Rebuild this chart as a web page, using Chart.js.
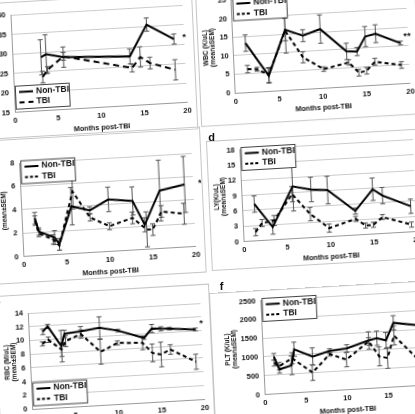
<!DOCTYPE html>
<html><head><meta charset="utf-8">
<script src="https://cdn.jsdelivr.net/npm/chart.js@4.4.1/dist/chart.umd.min.js"></script>
<style>
html,body{margin:0;padding:0;background:#fff;width:415px;height:414px;overflow:hidden;position:relative;}
.panel{position:absolute;transform-origin:0 0;outline:1px solid #c6c6c6;}
.panel canvas{display:block;}
.lab{position:absolute;font:bold 11px "Liberation Sans",Arial,sans-serif;color:#111;line-height:1;}
</style></head><body>
<script>
// ---------- data ----------
const seriesNames = ['Non-TBI', 'TBI'];
const xAxisTitle = 'Months post-TBI';

// panel a
const aNonX = [3.3, 3.9, 5.9, 13.6, 15.7, 18.8];
const aNonY = [28.7, 29.4, 28.4, 27.6, 35.5, 31.4];
const aNonE = [4.5, 5.0, 2.6, 1.9, 1.7, 1.3];
const aTbiX = [3.4, 4.0, 5.9, 13.8, 14.8, 15.9, 18.8];
const aTbiY = [23.6, 25.4, 28.6, 24.6, 27.3, 25.6, 23.5];
const aTbiE = [1.5, 0.8, 1.0, 1.0, 2.6, 1.5, 2.6];

// panel b  WBC
const bNonX = [1.4, 3.9, 6.0, 8.0, 10.0, 12.9, 14.1, 15.1, 16.3, 19.1];
const bNonY = [13.2, 4.1, 16.2, 14.3, 15.8, 9.4, 9.2, 13.1, 13.7, 10.8];
const bNonE = [2.2, 2.0, 3.0, 1.6, 3.8, 2.2, 1.1, 2.7, 2.4, 0.5];
const bTbiX = [1.5, 2.6, 3.9, 6.0, 7.9, 10.2, 13.1, 14.2, 15.1, 16.1, 19.1];
const bTbiY = [6.2, 6.0, 4.3, 15.9, 8.5, 5.0, 6.4, 3.5, 3.9, 6.2, 4.9];
const bTbiE = [1.0, 0.5, 2.0, 6.0, 1.5, 0.6, 0.7, 0.9, 0.9, 0.9, 0.9];

// panel c
const cNonX = [1.5, 1.9, 3.7, 4.2, 5.8, 7.9, 10.1, 12.9, 14.2, 16.1, 19.0];
const cNonY = [3.2, 2.05, 1.45, 0.85, 4.05, 3.6, 4.45, 4.2, 2.1, 4.95, 5.35];
const cNonE = [0.5, 0.3, 0.6, 0.5, 1.6, 0.3, 1.05, 1.2, 0.6, 2.6, 2.4];
const cTbiX = [1.5, 1.9, 3.5, 4.2, 6.0, 7.9, 10.1, 12.8, 14.4, 15.1, 16.2, 18.8];
const cTbiY = [3.0, 1.9, 1.3, 0.75, 5.3, 3.0, 2.15, 2.75, 1.7, 1.65, 3.15, 2.85];
const cTbiE = [0.4, 0.3, 0.4, 0.4, 1.5, 0.3, 0.3, 0.5, 1.5, 0.5, 0.5, 0.9];

// panel d  LY
const dNonX = [1.4, 3.4, 5.9, 8.0, 9.9, 13.0, 15.1, 16.2, 19.4];
const dNonY = [7.2, 2.5, 10.2, 9.4, 9.1, 4.7, 8.75, 7.4, 5.0];
const dNonE = [1.6, 1.4, 4.8, 2.4, 2.7, 0.6, 2.2, 1.6, 1.4];
const dTbiX = [1.4, 2.2, 3.6, 5.8, 7.8, 9.9, 13.0, 14.1, 15.0, 16.1, 19.4];
const dTbiY = [1.7, 3.4, 3.75, 8.7, 4.6, 1.65, 3.15, 1.75, 1.8, 3.2, 1.4];
const dTbiE = [0.7, 0.7, 1.0, 1.5, 1.3, 0.8, 0.5, 0.5, 0.5, 0.5, 0.5];

// panel e  RBC
const eNonX = [1.6, 2.2, 3.7, 4.1, 6.0, 8.2, 10.3, 13.3, 14.25, 15.3, 16.3, 19.3];
const eNonY = [11.15, 11.9, 8.9, 10.7, 10.9, 11.25, 10.7, 9.4, 10.7, 10.6, 10.55, 10.2];
const eNonE = [0.4, 0.3, 2.3, 0.5, 0.7, 1.6, 0.2, 0.2, 0.6, 0.3, 0.2, 0.2];
const eTbiX = [1.5, 2.2, 3.7, 4.2, 6.0, 8.2, 10.2, 13.1, 14.2, 15.2, 16.3, 19.2];
const eTbiY = [9.4, 9.95, 8.4, 9.6, 10.5, 7.75, 8.9, 8.7, 7.15, 6.85, 7.5, 5.5];
const eTbiE = [0.3, 0.4, 1.0, 0.8, 0.6, 1.8, 0.3, 1.0, 1.3, 1.8, 0.7, 1.1];

// panel f  PLT
const fNonX = [1.3, 1.9, 3.4, 3.8, 6.0, 8.1, 10.2, 12.9, 13.9, 15.0, 16.0, 19.0];
const fNonY = [990, 645, 735, 1155, 935, 1055, 1095, 1275, 1320, 1250, 1705, 1600];
const fNonE = [85, 100, 250, 190, 230, 60, 100, 230, 190, 210, 190, 150];
const fTbiX = [1.3, 1.9, 3.5, 5.9, 8.1, 10.1, 12.9, 14.1, 15.1, 16.0, 19.0];
const fTbiY = [820, 730, 920, 510, 970, 800, 1250, 835, 780, 1365, 650];
const fTbiE = [80, 100, 150, 210, 50, 190, 100, 250, 275, 250, 200];

// ---------- layout / style ----------
const SKEW_B = -0.058, SKEW_C = 0.046;
const FONT = '"Liberation Sans", Arial, sans-serif';

const panels = [
  {O:[15.5,112.5], PW:172.5, PH:97.5, yw:30, padL:6, padT:12, padR:8, padB:2, xh:24,
   yMin:15, yMax:40, yStep:5, title:null, legend:'bottom', lineDash:[6,4], legDash:[5,4],
   non:[aNonX,aNonY,aNonE], tbi:[aTbiX,aTbiY,aTbiE], star:{x:20,y:31.6,t:'*'}},
  {O:[235,93], PW:175, PH:93, yw:30.75, padL:4, padT:10, padR:8, padB:7, xh:24,
   yMin:0, yMax:25, yStep:5, title:['WBC (K/uL)','(mean±SEM)'], legend:'top',
   non:[bNonX,bNonY,bNonE], tbi:[bTbiX,bTbiY,bTbiE], star:{x:19.9,y:12.4,t:'**'}},
  {O:[24,257], PW:172.5, PH:93.5, yw:20.25, padL:14, padT:25, padR:8, padB:1, xh:24,
   yMin:0, yMax:8, yStep:2, title:['(mean±SEM)'], legend:'top',
   non:[cNonX,cNonY,cNonE], tbi:[cTbiX,cTbiY,cTbiE], star:{x:20.8,y:5.4,t:'*'}},
  {O:[244,241.5], PW:173.5, PH:93.5, yw:28.25, padL:4, padT:8, padR:8, padB:2, xh:24,
   yMin:0, yMax:18, yStep:3, title:['LY(K/uL)','(mean±SEM)'], legend:'top',
   non:[dNonX,dNonY,dNonE], tbi:[dTbiX,dTbiY,dTbiE], star:null},
  {O:[32,409.5], PW:172.5, PH:96, yw:26.25, padL:6, padT:18, padR:8, padB:4, xh:24,
   yMin:0, yMax:14, yStep:2, title:['RBC (M/uL)','(mean±SEM)'], legend:'bottom',
   non:[eNonX,eNonY,eNonE], tbi:[eTbiX,eTbiY,eTbiE], star:{x:20,y:11,t:'*'}},
  {O:[265,394.5], PW:164.5, PH:98.5, yw:38.25, padL:12, padT:5, padR:8, padB:4, xh:24,
   yMin:0, yMax:2500, yStep:500, title:['PLT (K/uL)','(mean±SEM)'], legend:'top',
   non:[fNonX,fNonY,fNonE], tbi:[fTbiX,fTbiY,fTbiE], star:null}
];

const panelLetters = [
  {t:'d', x:211.7, y:137.3},
  {t:'f', x:221.7, y:286.7},
  {t:'e', x:-2.5, y:302}
];

function pts(xs, ys){ return xs.map((x,i)=>({x:x, y:ys[i]})); }

function extrasPlugin(p){
  return {
    id:'panelExtras',
    beforeDatasetsDraw(chart){
      const ctx = chart.ctx, xs = chart.scales.x, ys = chart.scales.y;
      ctx.save();
      ctx.strokeStyle = '#555'; ctx.lineWidth = 1;
      chart.data.datasets.forEach(ds=>{
        const errs = ds.errs || [];
        ds.data.forEach((pt,i)=>{
          const e = errs[i]; if(!e) return;
          const px = xs.getPixelForValue(pt.x);
          const y1 = ys.getPixelForValue(pt.y + e), y2 = ys.getPixelForValue(pt.y - e);
          ctx.beginPath();
          ctx.moveTo(px,y1); ctx.lineTo(px,y2);
          ctx.moveTo(px-2.5,y1); ctx.lineTo(px+2.5,y1);
          ctx.moveTo(px-2.5,y2); ctx.lineTo(px+2.5,y2);
          ctx.stroke();
        });
      });
      ctx.restore();
    },
    afterDraw(chart){
      const ctx = chart.ctx, ca = chart.chartArea;
      ctx.save();
      // legend box
      const bw = 54, bh = 23;
      const bx = ca.left + 1;
      const by = p.legend === 'bottom' ? ca.bottom - 3.5 - bh : ca.top - 2.5;
      ctx.fillStyle = '#fff'; ctx.fillRect(bx, by, bw, bh);
      ctx.strokeStyle = '#444'; ctx.lineWidth = 1; ctx.strokeRect(bx+0.5, by+0.5, bw, bh);
      const dashes = [[], p.legDash || [3,2]];
      seriesNames.forEach((name, r)=>{
        const yy = by + 6.5 + r*10.5;
        ctx.strokeStyle = '#000'; ctx.lineWidth = 2; ctx.setLineDash(dashes[r]);
        ctx.beginPath(); ctx.moveTo(bx+4, yy); ctx.lineTo(bx+18, yy); ctx.stroke();
        ctx.setLineDash([]);
        ctx.fillStyle = '#111'; ctx.font = 'bold 8.5px ' + FONT;
        ctx.textBaseline = 'middle'; ctx.textAlign = 'left';
        ctx.fillText(name, bx+21, yy);
      });
      // significance star
      if (p.star){
        const sx = chart.scales.x.getPixelForValue(p.star.x);
        const sy = chart.scales.y.getPixelForValue(p.star.y);
        ctx.fillStyle = '#111'; ctx.font = 'bold 9px ' + FONT;
        ctx.textAlign = 'center'; ctx.textBaseline = 'middle';
        ctx.fillText(p.star.t, sx, sy);
      }
      ctx.restore();
    }
  };
}

function makePanel(p){
  const W = Math.ceil(p.padL + p.yw + p.PW + p.padR);
  const H = Math.ceil(p.padT + p.PH + p.xh + p.padB);
  const padR = W - (p.padL + p.yw + p.PW);
  const padB = H - (p.padT + p.PH + p.xh);
  const ox = p.padL + p.yw, oy = p.padT + p.PH;
  const left = p.O[0] - ox - SKEW_C*oy;
  const top = p.O[1] - SKEW_B*ox - oy;
  const div = document.createElement('div');
  div.className = 'panel';
  div.style.left = left + 'px'; div.style.top = top + 'px';
  div.style.width = W + 'px'; div.style.height = H + 'px';
  div.style.transform = 'matrix(1,' + SKEW_B + ',' + SKEW_C + ',1,0,0)';
  const cv = document.createElement('canvas');
  cv.width = W; cv.height = H;
  cv.style.width = W + 'px'; cv.style.height = H + 'px';
  div.appendChild(cv);
  document.body.appendChild(div);
  const tickFont = {family:FONT, size:7.5, weight:'bold'};
  new Chart(cv, {
    type:'line',
    data:{datasets:[
      {label:seriesNames[0], data:pts(p.non[0],p.non[1]), errs:p.non[2],
       borderColor:'#000', borderWidth:2, pointRadius:0, tension:0, fill:false},
      {label:seriesNames[1], data:pts(p.tbi[0],p.tbi[1]), errs:p.tbi[2],
       borderColor:'#000', borderWidth:2, borderDash:p.lineDash || [4,3], pointRadius:0, tension:0, fill:false}
    ]},
    options:{
      responsive:false, animation:false, devicePixelRatio:1,
      layout:{padding:{left:p.padL, top:p.padT, right:padR, bottom:padB}},
      plugins:{legend:{display:false}, tooltip:{enabled:false}},
      scales:{
        x:{type:'linear', min:0, max:20,
          ticks:{stepSize:5, padding:4, font:tickFont, color:'#111', maxRotation:0, autoSkip:false,
                 callback:(v)=>String(v)},
          grid:{display:false, drawTicks:false},
          border:{display:true, color:'#9a9a9a', width:1},
          title:{display:true, text:xAxisTitle, color:'#111',
                 font:{family:FONT, size:7.2, weight:'bold', lineHeight:1}, padding:{top:0,bottom:0}},
          afterFit:(s)=>{ s.height = p.xh; }},
        y:{type:'linear', min:p.yMin, max:p.yMax,
          ticks:{stepSize:p.yStep, padding:5, font:tickFont, color:'#111', callback:(v)=>String(v)},
          grid:{color:'#cbcbcb', lineWidth:1, drawTicks:false},
          border:{display:true, color:'#9a9a9a', width:1},
          title:{display:!!p.title, text:p.title || '', color:'#111',
                 font:{family:FONT, size:6.5, weight:'bold', lineHeight:1}, padding:{top:0,bottom:0}},
          afterFit:(s)=>{ s.width = p.yw; }}
      }
    },
    plugins:[extrasPlugin(p)]
  });
}

panels.forEach(makePanel);
panelLetters.forEach(l=>{
  const d = document.createElement('div');
  d.className = 'lab'; d.textContent = l.t;
  document.body.appendChild(d);
  d.style.left = (l.x - d.offsetWidth/2) + 'px';
  d.style.top = (l.y - d.offsetHeight/2) + 'px';
});
</script>
</body></html>
